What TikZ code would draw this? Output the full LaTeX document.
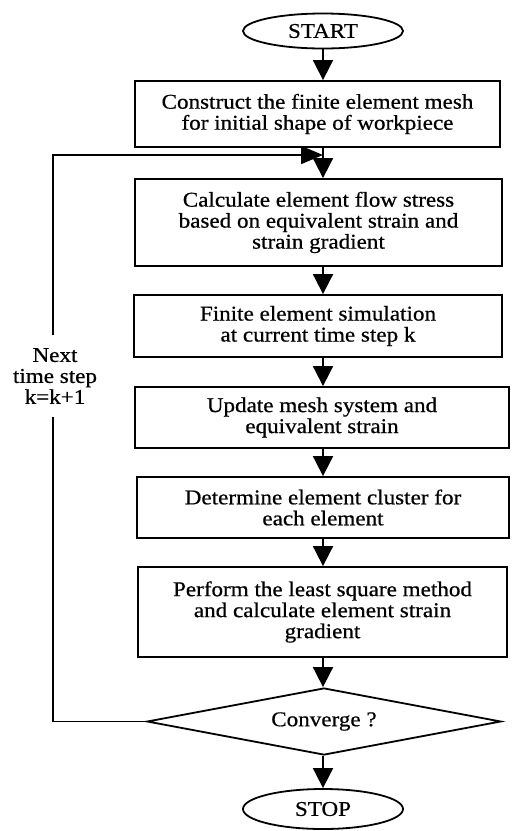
\documentclass[tikz,border=0pt]{standalone}
\usepackage{fontspec}
\setmainfont{Liberation Serif}[FakeStretch=1.1,FakeBold=0.6]
\usetikzlibrary{shapes.geometric,arrows.meta}

\begin{document}
\begin{tikzpicture}[x=1pt,y=-1pt,
  every node/.style={font=\fontsize{21}{21}\selectfont, align=center, inner sep=0pt},
  stepbox/.style={draw, rectangle, line width=1.8pt},
  term/.style={draw, ellipse, line width=1.8pt, minimum width=160pt},
  test/.style={draw, diamond, shape aspect=5.3, line width=1.8pt,
    minimum width=354pt, minimum height=67pt},
  flow/.style={line width=1.8pt, -{Triangle[length=20pt,width=20pt]}},
  back/.style={line width=1.8pt},
]
\useasboundingbox (0,0) rectangle (516,831);

\node[term, minimum height=35pt] (start) at (323,31) {START};
\node[stepbox, minimum width=365pt, minimum height=66pt] (mesh) at (317.5,114)
  {Construct the finite element mesh\\for initial shape of workpiece};
\node[stepbox, minimum width=367pt, minimum height=87pt] (flowstress) at (318.5,222.5)
  {Calculate element flow stress\\based on equivalent strain and\\strain gradient};
\node[stepbox, minimum width=368pt, minimum height=62pt] (fesim) at (318,326)
  {Finite element simulation\\at current time step k};
\node[stepbox, minimum width=374pt, minimum height=61pt] (update) at (322,417.5)
  {Update mesh system and\\equivalent strain};
\node[stepbox, minimum width=372pt, minimum height=61pt] (cluster) at (323,507.5)
  {Determine element cluster for\\each element};
\node[stepbox, minimum width=369pt, minimum height=90pt] (lsq) at (322.5,612)
  {Perform the least square method\\and calculate element strain\\gradient};
\node[test] (conv) at (324,721.5) {Converge ?};
\node[term, minimum height=40pt] (stop) at (323,809) {STOP};

\node (nextlbl) at (55,376) {Next\\time step\\k=k+1};

% main downward flow
\draw[flow] (start.south) -- (mesh.north -| start.south);
\draw[flow] (mesh.south -| start.south) -- (flowstress.north -| start.south);
\draw[flow] (flowstress.south -| start.south) -- (fesim.north -| start.south);
\draw[flow] (fesim.south -| start.south) -- (update.north -| start.south);
\draw[flow] (update.south -| start.south) -- (cluster.north -| start.south);
\draw[flow] (cluster.south -| start.south) -- (lsq.north -| start.south);
\draw[flow] (lsq.south -| start.south) -- (conv.north -| start.south);
\draw[flow] (conv.south -| start.south) -- (stop.north);

% loop back to the next time step
\coordinate (lowgap) at (53,417);
\coordinate (highgap) at (53,335);
\coordinate (corner) at (53,155);
\coordinate (join) at (323,155);
\draw[back] (conv.west) -| (lowgap);
\draw[back, -{Triangle[length=22pt,width=18pt]}] (highgap) -- (corner) -- (join);
\end{tikzpicture}
\end{document}
